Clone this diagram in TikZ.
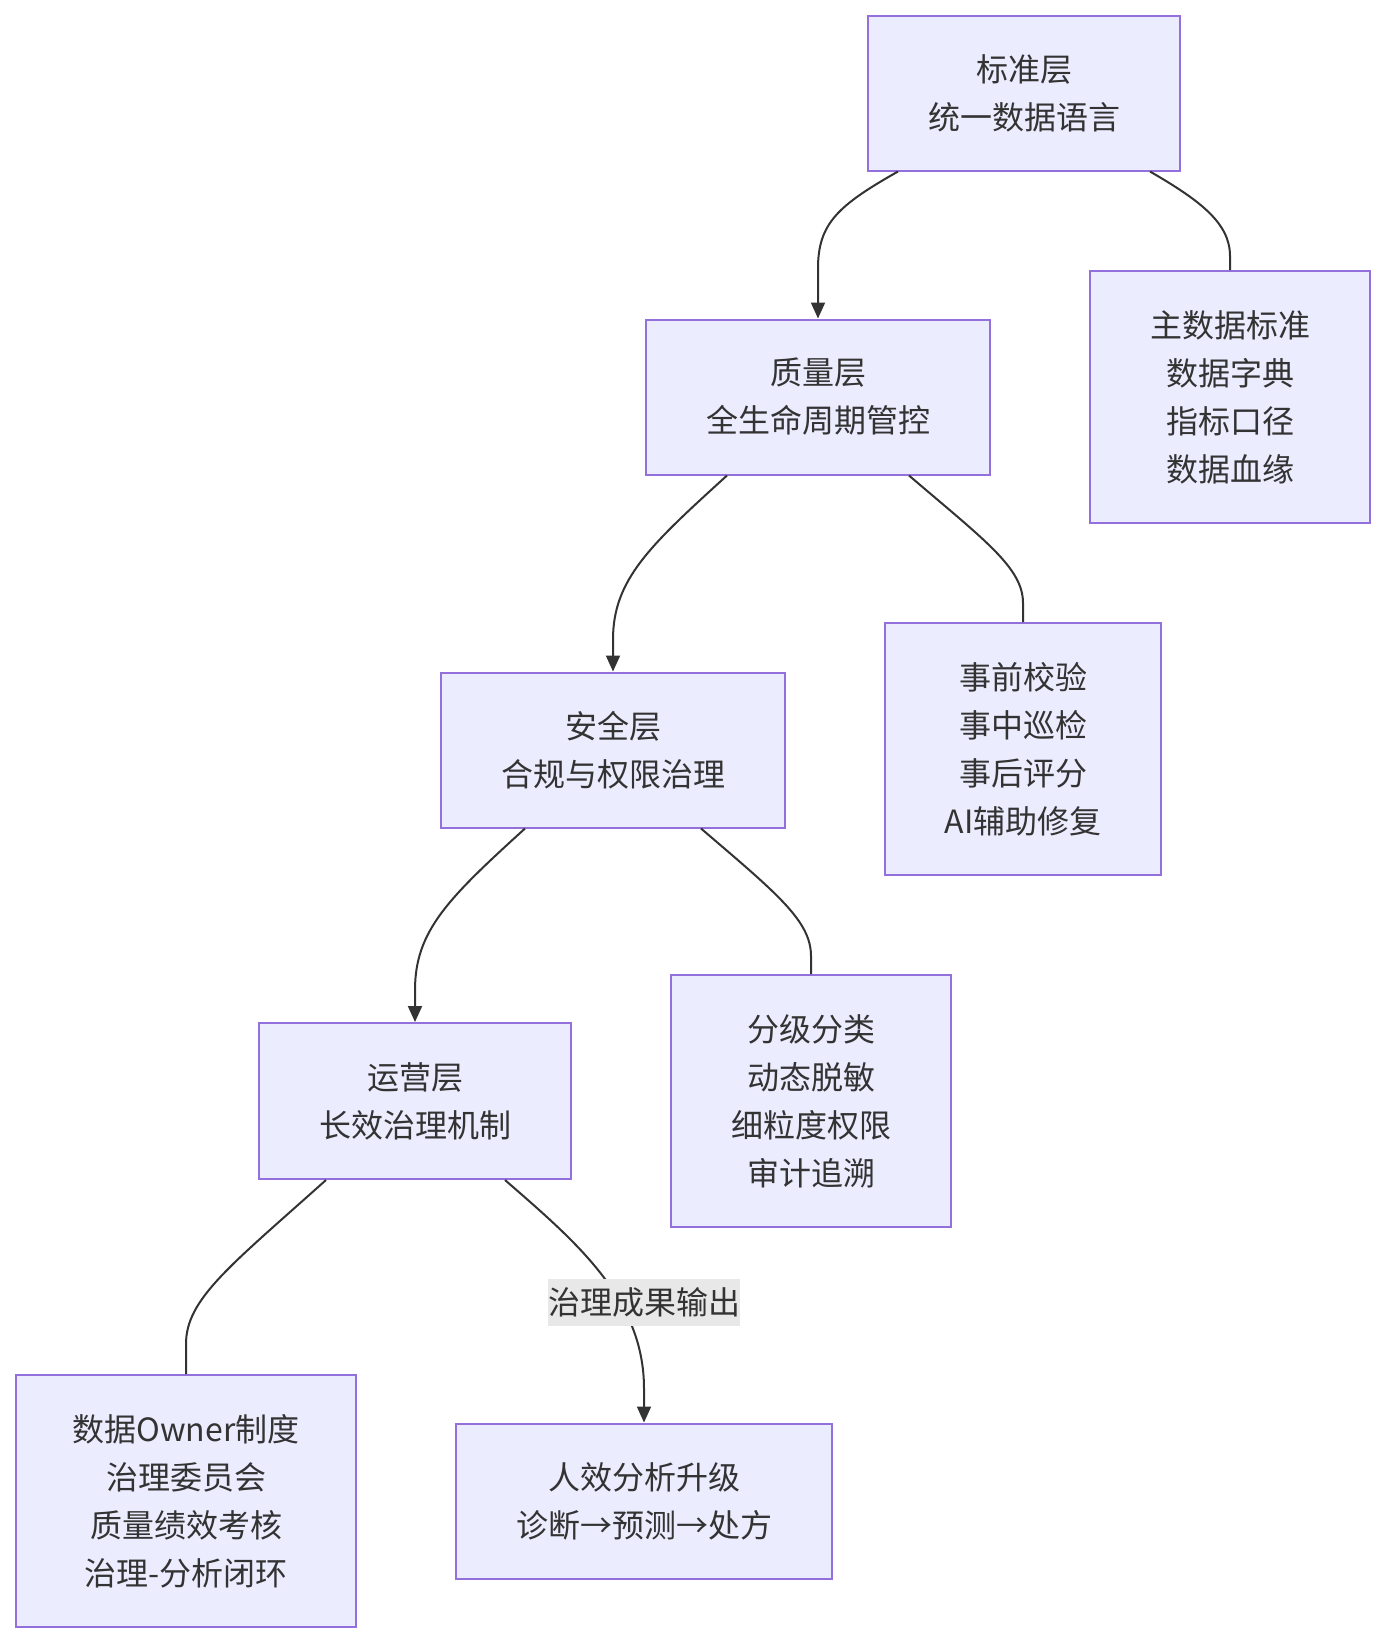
\documentclass[tikz,border=0pt]{standalone}
\usepackage{fontspec}
\setmainfont{Noto Sans CJK SC}
\usetikzlibrary{arrows.meta,calc}
\definecolor{nodefill}{HTML}{ECECFF}
\definecolor{nodeline}{HTML}{9370DB}
\definecolor{edgecol}{HTML}{333333}
\definecolor{lblfill}{HTML}{E8E8E8}
\begin{document}
\begin{tikzpicture}[x=1pt,y=-1pt,
  box/.style={draw=nodeline, fill=nodefill, line width=2pt, align=center, inner sep=0pt,
    text=edgecol, font=\fontsize{32}{48}\selectfont},
  link/.style={draw=edgecol, line width=2pt},
  arr/.style={link, -{Triangle[length=16pt,width=14pt]}},
  lbl/.style={fill=lblfill, inner sep=0pt, minimum width=192pt, minimum height=47pt,
    text=edgecol, font=\fontsize{32}{48}\selectfont}]
\useasboundingbox (0,0) rectangle (1386,1644);
\node[box, minimum width=312pt, minimum height=155pt] (bz) at (1024,93) {标准层\\统一数据语言};
\node[box, minimum width=280pt, minimum height=252pt] (zsj) at (1230,397) {主数据标准\\数据字典\\指标口径\\数据血缘};
\node[box, minimum width=344pt, minimum height=155pt] (zl) at (818,397) {质量层\\全生命周期管控};
\node[box, minimum width=276pt, minimum height=252pt] (sq) at (1023,749) {事前校验\\事中巡检\\事后评分\\AI辅助修复};
\node[box, minimum width=344pt, minimum height=155pt] (aq) at (613,750) {安全层\\合规与权限治理};
\node[box, minimum width=280pt, minimum height=252pt] (fj) at (811,1101) {分级分类\\动态脱敏\\细粒度权限\\审计追溯};
\node[box, minimum width=312pt, minimum height=156pt] (yy) at (415,1101) {运营层\\长效治理机制};
\node[box, minimum width=340pt, minimum height=252pt] (own) at (186,1501) {数据Owner制度\\治理委员会\\质量绩效考核\\治理-分析闭环};
\node[box, minimum width=376pt, minimum height=155pt] (rx) at (644,1501) {人效分析升级\\诊断→预测→处方};
% edges
\draw[arr] ($(bz.south)+(-126,0)$) .. controls ($(bz.south)+(-186,34)$) and ($(zl.north)+(0,-95)$) .. ($(zl.north)+(0,-50)$) -- (zl.north);
\draw[link] ($(bz.south)+(126,0)$) .. controls ($(bz.south)+(176,29)$) and ($(zsj.north)+(0,-47)$) .. ($(zsj.north)+(0,-14)$) -- (zsj.north);
\draw[arr] ($(zl.south)+(-91,0)$) .. controls ($(zl.south)+(-168,70)$) and ($(aq.north)+(0,-92)$) .. ($(aq.north)+(0,-32)$) -- (aq.north);
\draw[link] ($(zl.south)+(91,0)$) .. controls ($(zl.south)+(167,65)$) and ($(sq.north)+(0,-54)$) .. ($(sq.north)+(0,-19)$) -- (sq.north);
\draw[arr] ($(aq.south)+(-88,0)$) .. controls ($(aq.south)+(-165,70)$) and ($(yy.north)+(0,-91)$) .. ($(yy.north)+(0,-32)$) -- (yy.north);
\draw[link] ($(aq.south)+(88,0)$) .. controls ($(aq.south)+(164,65)$) and ($(fj.north)+(0,-53)$) .. ($(fj.north)+(0,-18)$) -- (fj.north);
\draw[link] ($(yy.south)+(-89,0)$) .. controls ($(yy.south)+(-185,86)$) and ($(own.north)+(0,-75)$) .. ($(own.north)+(0,-30)$) -- (own.north);
\draw[arr] ($(yy.south)+(90,0)$) .. controls ($(yy.south)+(160,61)$) and ($(rx.north)+(0,-124)$) .. ($(rx.north)+(0,-34)$) -- (rx.north);
\node[lbl] (lb) at (644,1302) {治理成果输出};
\end{tikzpicture}
\end{document}
